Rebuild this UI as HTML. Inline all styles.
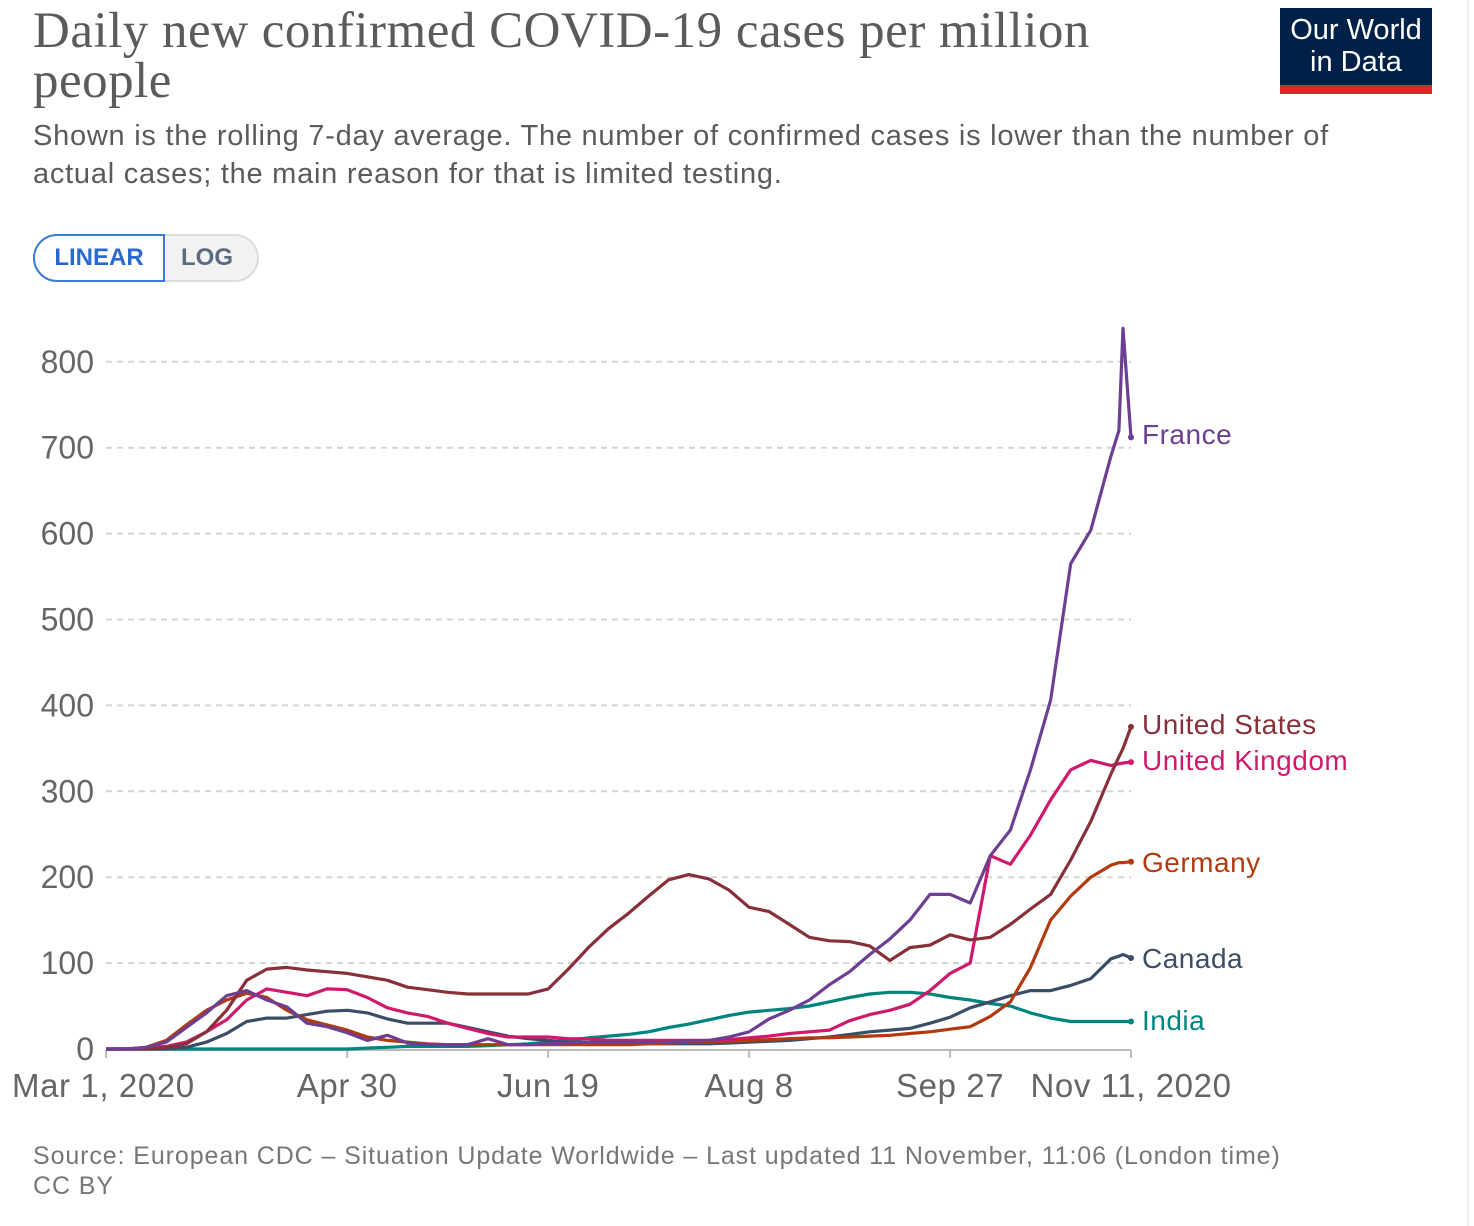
<!DOCTYPE html>
<html><head><meta charset="utf-8"><style>
body{margin:0;background:#fff;width:1474px;height:1226px;overflow:hidden;position:relative;font-family:"Liberation Sans",sans-serif}
.t{position:absolute;white-space:nowrap}
</style></head><body>
<div class="t" style="left:33px;top:6px;font-family:'Liberation Serif',serif;font-size:51px;letter-spacing:0.5px;line-height:50px;color:#5b5b5b">Daily new confirmed COVID-19 cases per million<br>people</div>
<div class="t" style="left:33px;top:117px;font-size:29px;letter-spacing:0.75px;line-height:38px;color:#5b5b5b">Shown is the rolling 7-day average. The number of confirmed cases is lower than the number of<br>actual cases; the main reason for that is limited testing.</div>
<div style="position:absolute;left:1280px;top:8px;width:152px;height:86px;background:#002147;border-bottom:9px solid #d42b2b;box-sizing:border-box;color:#fff;font-size:29px;line-height:32px;text-align:center;padding-top:6px">Our World<br>in Data</div>
<div style="position:absolute;left:1467px;top:0;width:2px;height:1226px;background:#eee"></div>
<div style="position:absolute;left:33px;top:234px;width:132px;height:48px;border:2px solid #3a7ad8;border-radius:26px 0 0 26px;box-sizing:border-box;color:#2a6ad0;font-weight:bold;font-size:24px;line-height:44px;text-align:center;background:#fff">LINEAR</div>
<div style="position:absolute;left:165px;top:234px;width:94px;height:48px;border:2px solid #ddd;border-left:none;border-radius:0 26px 26px 0;box-sizing:border-box;color:#5a6a80;font-weight:bold;font-size:24px;line-height:44px;text-align:center;background:#f2f2f2;padding-right:8px">LOG</div>
<svg id="chart" width="1474" height="1226" style="position:absolute;left:0;top:0"></svg>
<div class="t" style="left:33px;top:1141px;font-size:25px;letter-spacing:0.9px;line-height:30px;color:#777">Source: European CDC – Situation Update Worldwide – Last updated 11 November, 11:06 (London time)<br>CC BY</div>
<script>
const days=[0,5,10,15,20,25,30,35,40,45,50,55,60,65,70,75,80,85,90,95,100,105,110,115,120,125,130,135,140,145,150,155,160,165,170,175,180,185,190,195,200,205,210,215,220,225,230,235,240,245,250,252,253,255];
const france=[0,0,2,8,25,42,62,68,57,49,30,26,19,10,16,7,5,5,5,12,5,5,6,7,8,8,8,8,8,9,10,14,20,35,45,57,75,90,110,128,150,180,180,170,225,255,325,406,565,604,690,720,839,712];
const us=[0,0,0,2,6,20,45,80,93,95,92,90,88,84,80,72,69,66,64,64,64,64,70,93,118,140,158,178,197,203,198,185,165,160,145,130,126,125,120,103,118,121,133,127,130,145,163,180,220,265,320,340,350,375];
const uk=[0,0,1,3,8,20,34,57,70,66,62,70,69,60,48,42,38,30,24,18,14,14,14,12,12,10,10,10,10,10,10,11,13,15,18,20,22,33,40,45,52,68,88,100,225,215,249,290,325,336,330,332,333,334];
const germany=[0,0,2,10,28,45,57,65,60,45,34,28,22,14,10,8,6,5,5,5,5,5,5,5,5,5,5,6,7,8,8,9,10,11,12,13,13,14,15,16,18,20,23,26,38,55,95,150,178,200,214,217,217,218];
const canada=[0,0,0,0,2,8,18,32,36,36,40,44,45,42,35,30,30,30,25,20,15,12,10,8,8,8,7,6,6,6,6,7,8,9,10,12,14,17,20,22,24,30,37,48,55,62,68,68,74,82,105,108,110,106];
const india=[0,0,0,0,0,0,0,0,0,0,0,0,0,1,2,3,3,3,3,4,5,6,8,10,13,15,17,20,25,29,34,39,43,45,47,50,55,60,64,66,66,64,60,57,53,50,42,36,32,32,32,32,32,32];
const yTicks=[0,100,200,300,400,500,600,700,800];
const xTickDays=[0,60,110,160,210,255];
const xTickLabels=["Mar 1, 2020","Apr 30","Jun 19","Aug 8","Sep 27","Nov 11, 2020"];
const seriesNames=["France","United States","United Kingdom","Germany","Canada","India"];
const seriesColors=["#6d3f92","#883039","#cf1a6b","#b23a0e","#3c4e66","#00847e"];
const labelY=[434,724,760,862,958,1020];
const X=d=>106+d*(1025/255);
const Y=v=>1049-v*0.859;
const svg=document.getElementById('chart');
const NS='http://www.w3.org/2000/svg';
function mk(tag,at){const e=document.createElementNS(NS,tag);for(const k in at)e.setAttribute(k,at[k]);svg.appendChild(e);return e;}
yTicks.forEach(v=>{
  if(v>0){const g=mk('line',{x1:106,x2:1131,y1:Y(v),y2:Y(v),stroke:'#d4d4d4','stroke-width':2,'stroke-dasharray':'6,5'});
  
  }
  const t=mk('text',{x:94,y:Y(v)+11,'text-anchor':'end','font-size':32,fill:'#666','font-family':'Liberation Sans, sans-serif'});
  t.textContent=v;
  
  
});
const ax=mk('line',{x1:106,x2:1131,y1:1050,y2:1050,stroke:'#bbb','stroke-width':2});


xTickDays.forEach((d,i)=>{
  const tk=mk('line',{x1:X(d),x2:X(d),y1:1050,y2:1058,stroke:'#bbb','stroke-width':2});
  
  
  let x=X(d); if(i==0)x=12;
  const t=mk('text',{x:x,y:1097,'text-anchor':i==0?'start':'middle','font-size':33,'letter-spacing':0.6,fill:'#666','font-family':'Liberation Sans, sans-serif'});
  t.textContent=xTickLabels[i];
  
  
});
const allSeries=[france,us,uk,germany,canada,india];
for(let s=allSeries.length-1;s>=0;s--){
  const vals=allSeries[s];
  const pts=days.map((d,i)=>X(d).toFixed(1)+','+Y(vals[i]).toFixed(1)).join(' ');
  const p=mk('polyline',{points:pts,fill:'none',stroke:seriesColors[s],'stroke-width':3.2,'stroke-linejoin':'round'});
  
  
  const c=mk('circle',{cx:X(days[days.length-1]),cy:Y(vals[vals.length-1]),r:3,fill:seriesColors[s]});
  
  
  const t=mk('text',{x:1142,y:labelY[s]+10,'font-size':28,'letter-spacing':0.5,fill:seriesColors[s],'font-family':'Liberation Sans, sans-serif'});
  t.textContent=seriesNames[s];
  
  
}
</script>
</body></html>
